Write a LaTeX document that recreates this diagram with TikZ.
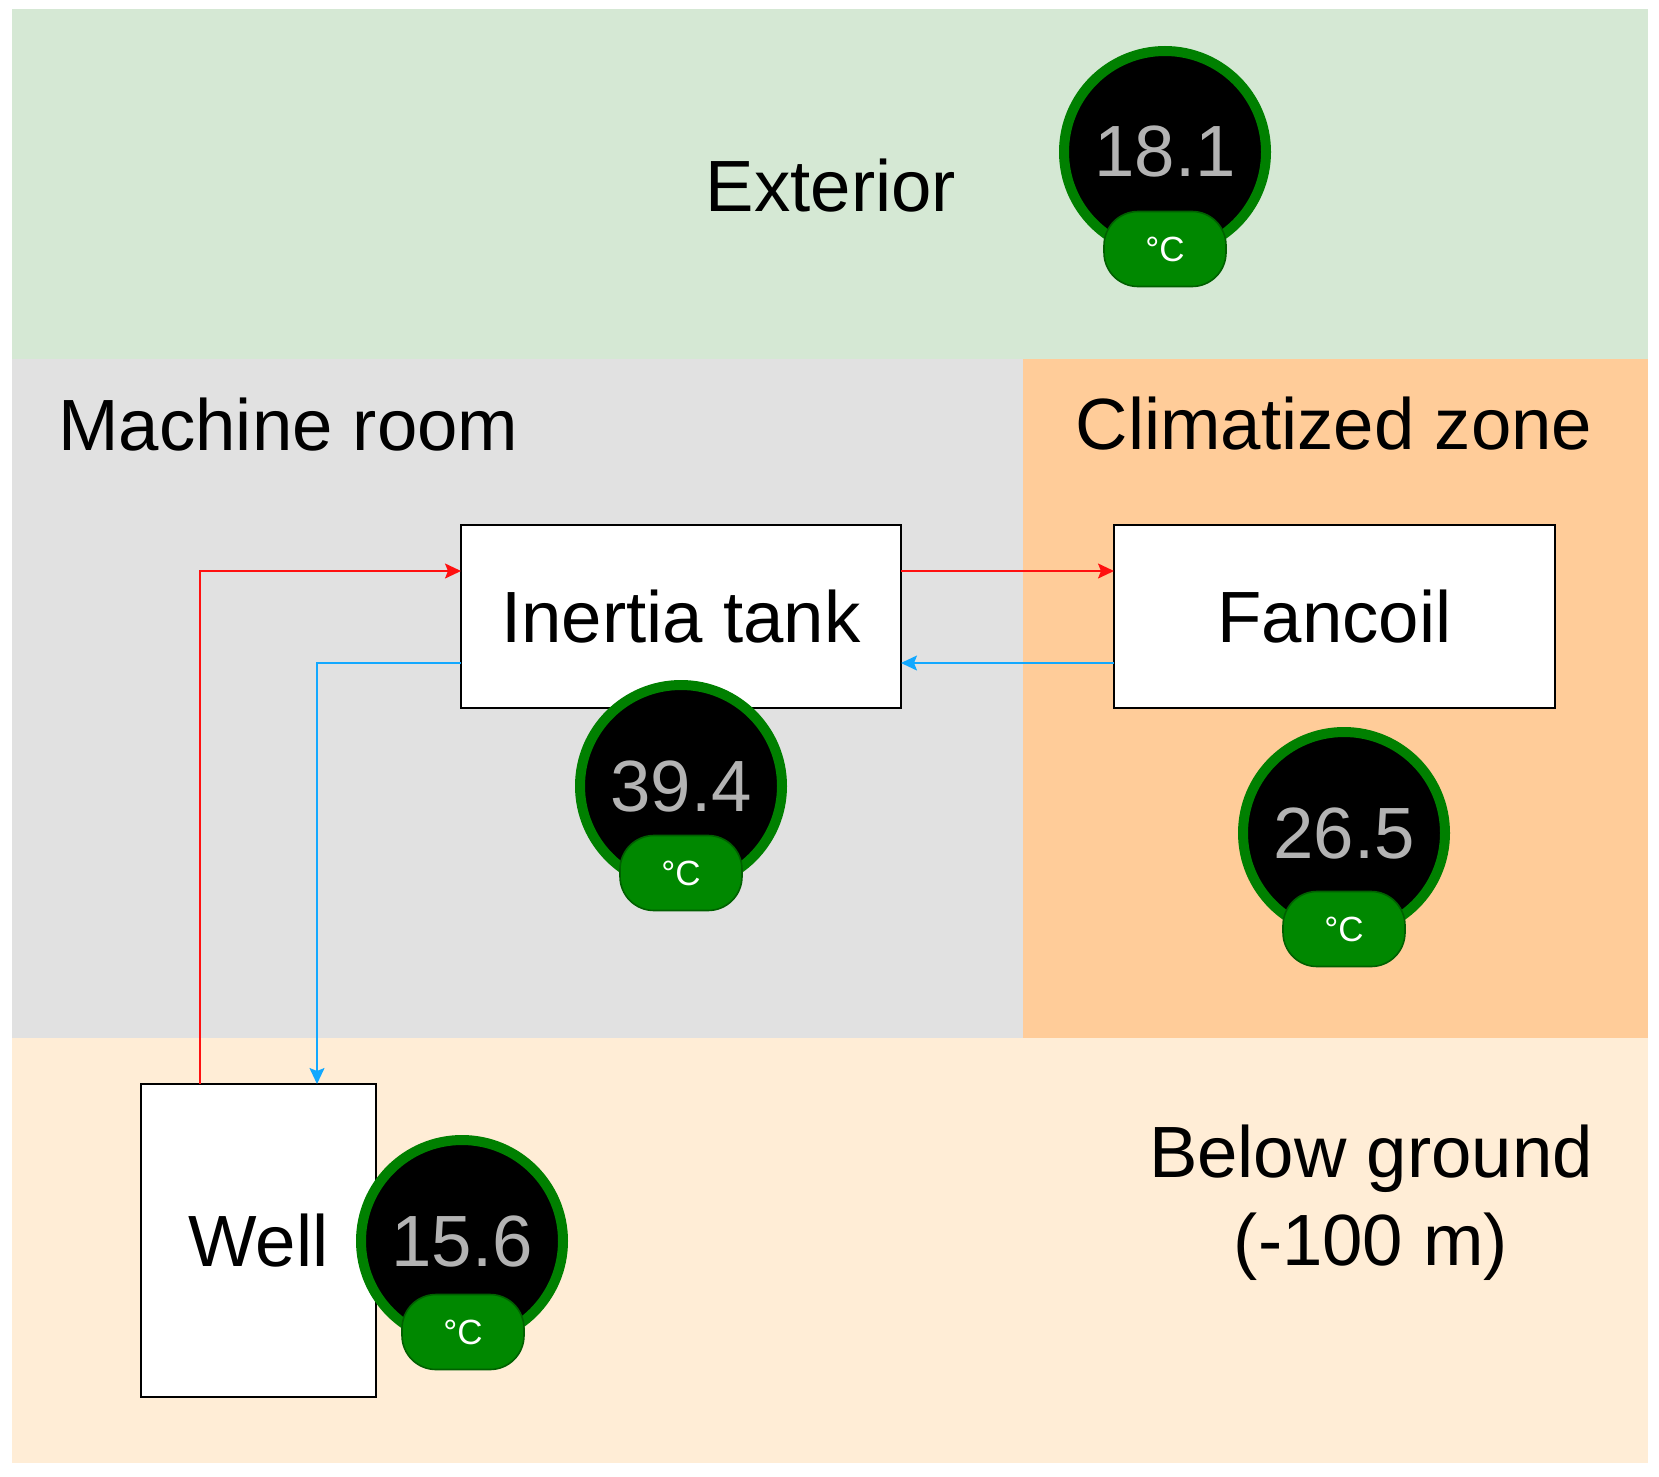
\documentclass[tikz,border=0pt]{standalone}
\usepackage{fontspec}
\setmainfont{Liberation Sans}
\usetikzlibrary{arrows.meta}
\definecolor{extc}{HTML}{D5E8D4}
\definecolor{machc}{HTML}{E1E1E1}
\definecolor{climc}{HTML}{FFCC99}
\definecolor{belowc}{HTML}{FFEDD6}
\definecolor{ringc}{HTML}{008000}
\definecolor{pillc}{HTML}{008800}
\definecolor{pilld}{HTML}{006000}
\definecolor{numc}{HTML}{B3B3B3}
\definecolor{hotc}{HTML}{FF1010}
\definecolor{coldc}{HTML}{12A8FF}
\newcommand{\bigfont}{\fontsize{36.3}{44}\selectfont}
\newcommand{\unitfont}{\fontsize{17.5}{20}\selectfont}
\tikzset{
  zone/.style={draw=none},
  box/.style={draw=black, line width=1pt, fill=white, inner sep=0pt, outer sep=0pt, font=\bigfont},
  gauge/.style={circle, fill=black, draw=ringc, line width=5pt, minimum size=101pt, inner sep=0pt, outer sep=0pt, text=numc, font=\bigfont},
  pill/.style={rounded corners=17pt, fill=pillc, draw=pilld, line width=0.8pt, minimum width=61pt, minimum height=37.5pt, inner sep=0pt, text=white, font=\unitfont},
  lbl/.style={inner sep=0pt, font=\bigfont, text=black},
  hot/.style={draw=hotc, line width=0.8pt, -{Stealth[length=8pt,width=7.5pt,inset=1.5pt]}},
  cold/.style={draw=coldc, line width=0.8pt, -{Stealth[length=8pt,width=7.5pt,inset=1.5pt]}}
}
\begin{document}
\begin{tikzpicture}[x=0.5pt,y=-0.5pt]
\useasboundingbox (0,0) rectangle (1659,1477);
\fill[white] (0,0) rectangle (1659,1477);
% zones
\fill[extc] (12,9) rectangle (1648,359);
\fill[machc] (12,359) rectangle (1023,1038);
\fill[climc] (1023,359) rectangle (1648,1038);
\fill[belowc] (12,1038) rectangle (1648,1463);
% zone labels
\node[lbl, anchor=base] (ext) at (831,211) {Exterior};
\node[lbl, anchor=base west] (mach) at (58,450) {Machine room};
\node[lbl, anchor=base] (clim) at (1334,449) {Climatized zone};
\node[lbl, anchor=base, align=center] (below) at (1371,1265) {Below ground\\(-100 m)};
% boxes
\node[box, minimum width=220pt, minimum height=91.5pt] (tank) at (681,616.5) {Inertia tank};
\node[box, minimum width=220.5pt, minimum height=91.5pt] (fan) at (1334.5,616.5) {Fancoil};
\node[box, minimum width=117.5pt, minimum height=156.5pt] (well) at (258.5,1240.5) {Well};
% connectors
\draw[hot] ([xshift=29.5pt]well.north west) |- ([yshift=22.75pt]tank.west);
\draw[hot] ([yshift=22.75pt]tank.east) -- ([yshift=22.75pt]fan.west);
\draw[cold] ([yshift=-23.25pt]fan.west) -- ([yshift=-23.25pt]tank.east);
\draw[cold] ([yshift=-23.25pt]tank.west) -| ([xshift=88pt]well.north west);
% gauges
\node[gauge] (g1) at (1165,152) {18.1};
\node[pill] (p1) at (1165,249) {°C};
\node[gauge] (g2) at (681,786) {39.4};
\node[pill] (p2) at (681,873) {°C};
\node[gauge] (g3) at (1344,833) {26.5};
\node[pill] (p3) at (1344,929) {°C};
\node[gauge] (g4) at (462,1241) {15.6};
\node[pill] (p4) at (463,1332) {°C};
\end{tikzpicture}
\end{document}
